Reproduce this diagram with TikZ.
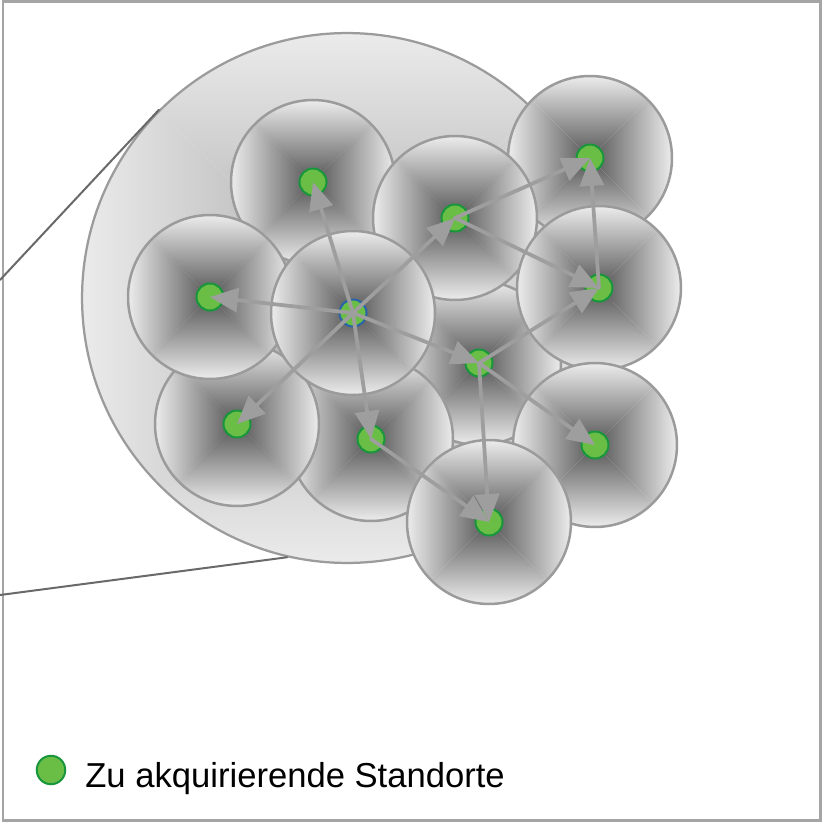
\documentclass[tikz,border=0pt]{standalone}
\usepackage{fontspec}
\setmainfont{Liberation Sans}
\usetikzlibrary{arrows.meta}

\definecolor{cellout}{RGB}{236,236,236}
\definecolor{cellin}{RGB}{85,85,85}
\definecolor{zoneout}{RGB}{235,235,235}
\definecolor{zonein}{RGB}{172,172,172}
\definecolor{rimgray}{RGB}{155,155,155}
\definecolor{sitegreen}{RGB}{106,190,70}
\definecolor{siteedge}{RGB}{24,150,60}
\definecolor{hubedge}{RGB}{40,100,170}
\definecolor{linkgray}{RGB}{158,158,158}
\definecolor{framegray}{RGB}{165,165,165}
\definecolor{zoomgray}{RGB}{105,105,105}

% four shaded triangles, light at the rim, dark in the middle
\newcommand{\cellpyramid}[3]{%
  \begin{scope}[shift={(path picture bounding box.center)}]
    \shade[top color=#2, bottom color=#3] (-#1,-#1) -- (#1,-#1) -- (0,0) -- cycle;
    \shade[top color=#3, bottom color=#2] (-#1,#1) -- (#1,#1) -- (0,0) -- cycle;
    \shade[left color=#2, right color=#3] (-#1,-#1) -- (-#1,#1) -- (0,0) -- cycle;
    \shade[left color=#3, right color=#2] (#1,-#1) -- (#1,#1) -- (0,0) -- cycle;
  \end{scope}}

\begin{document}
\begin{tikzpicture}[x=0.02cm, y=-0.02cm, line cap=round,
    cell/.style={circle, draw=rimgray, line width=0.05cm, inner sep=0pt,
      minimum size=3.28cm, path picture={\cellpyramid{82}{cellout}{cellin}}},
    zonecell/.style={circle, draw=rimgray, line width=0.045cm, inner sep=0pt,
      minimum size=10.6cm, path picture={\cellpyramid{265}{zoneout}{zonein}}},
    site/.style={circle, fill=sitegreen, draw=siteedge, line width=0.04cm,
      minimum size=0.54cm, inner sep=0pt},
    link/.style={draw=linkgray, line width=0.075cm,
      -{Triangle[length=0.56cm, width=0.48cm]}},
    zoomline/.style={zoomgray, line width=0.04cm}]
  \useasboundingbox (0,0) rectangle (823,822);

  % Frame
  \draw[framegray, line width=0.06cm] (3,1.5) rectangle (820.5,820.5);

  % Region
  \node[zonecell] (zone) at (347,298) {};
  \coordinate (zt) at (0,280);
  \coordinate (zb) at (0,595);
  \draw[zoomline] (zt) -- (zone.135);
  \draw[zoomline] (zb) -- (zone.257);

  % Cells (back to front)
  \foreach \n/\x/\y in {f/479/363, c/590/158, a/313/182, b/455/218, h/371/439,
      g/237/424, d/210/297, hub/353/313, e/599/288, i/595/445, j/489/522}
    \node[cell] (\n-cell) at (\x,\y) {};

  % Sites
  \foreach \n in {a,...,j}
    \node[site] (\n) at (\n-cell) {};
  \node[site, draw=hubedge] (hub) at (hub-cell) {};

  % Links
  \foreach \s/\t in {hub/a, hub/b, hub/d, hub/g, hub/h, hub/f,
      b/c, b/e, e/c, f/e, f/i, f/j, h/j}
    \draw[link] (\s.center) -- (\t.center);

  % Legend
  \node[site, minimum size=0.57cm] (key) at (51,770) {};
  \node[anchor=base west, inner sep=0pt, font=\fontsize{19.7pt}{24pt}\selectfont]
    (keytext) at (85,787) {Zu akquirierende Standorte};
\end{tikzpicture}
\end{document}
